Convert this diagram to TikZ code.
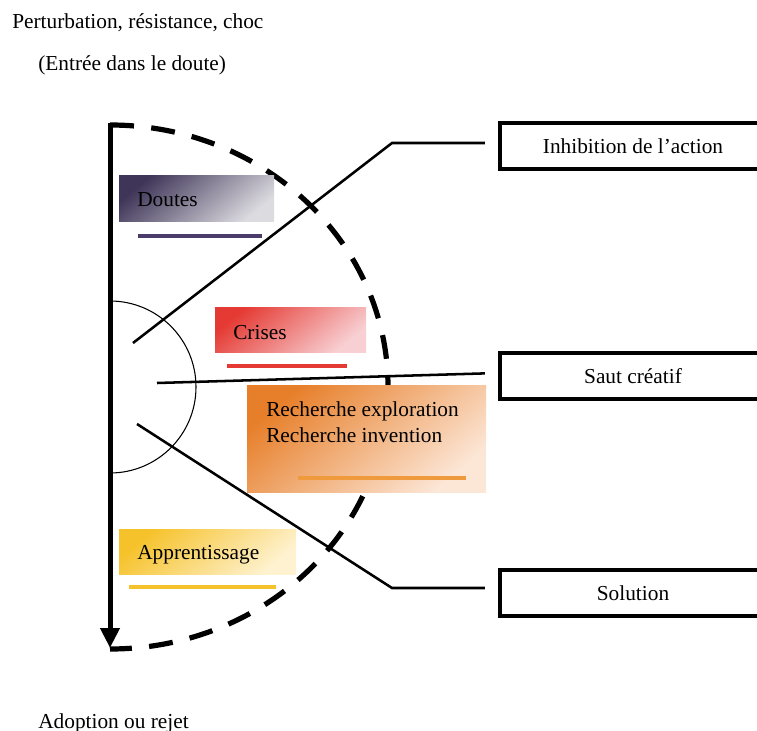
\documentclass[tikz,border=0pt]{standalone}
\usepackage{fontspec}
\setmainfont{Liberation Serif}
\usetikzlibrary{arrows.meta}

\definecolor{violetfonce}{HTML}{3F3558}
\definecolor{violetclair}{HTML}{DCDBE0}
\definecolor{violetbarre}{HTML}{4B3D6B}
\definecolor{rougefonce}{HTML}{E53A33}
\definecolor{rougeclair}{HTML}{F8D0D3}
\definecolor{orangefonce}{HTML}{E77F2A}
\definecolor{orangeclair}{HTML}{FCE6D6}
\definecolor{orangebarre}{HTML}{EF9A3C}
\definecolor{jaunefonce}{HTML}{F6C22B}
\definecolor{jauneclair}{HTML}{FEF2D0}

\begin{document}
\begin{tikzpicture}[x=0.75pt,y=-0.75pt,
    every node/.style={font=\fontsize{16}{19}\selectfont, inner sep=0pt},
    texte/.style={anchor=base west},
    sortie/.style={draw, line width=2.8pt, minimum width=199.5pt, minimum height=35pt},
    tiret/.style={line width=3.9pt, dash pattern=on 18pt off 13pt},
    trait/.style={line width=1.9pt},
    barre/.style={line width=3pt},
    degrade/.style 2 args={top color=#1, bottom color=#2, shading angle=40}]
  \useasboundingbox (0,0) rectangle (757,731);
  % Textes du haut et du bas
  \node[texte] (titre) at (12,29) {Perturbation, résistance, choc};
  \node[texte] (entree) at (38,71) {(Entrée dans le doute)};
  \node[texte] (adoption) at (38,728) {Adoption ou rejet};
  % Axe et arcs
  \draw[tiret] (110,125) arc[start angle=-90, end angle=90, x radius=278, y radius=262];
  \draw[line width=0.8pt] (110,301) arc[start angle=-90, end angle=90, radius=86];
  \draw[line width=3.75pt, -{Triangle[length=15pt,width=14pt]}] (110,123) -- (110,648);
  % Cadres de sortie
  \node[sortie] (inhib) at (633,146) {Inhibition de l’action};
  \node[sortie] (saut) at (633,376) {Saut créatif};
  \node[sortie] (solu) at (633,593) {Solution};
  % Traits vers les cadres
  \coordinate (d1) at (133,343);
  \coordinate (k1) at (392,143);
  \coordinate (d2) at (157,383);
  \coordinate (d3) at (137,424);
  \coordinate (k3) at (392,588);
  \draw[trait, shorten >=10pt] (d1) -- (k1) -- (k1 -| inhib.west);
  \draw[trait, shorten >=10pt] (d2) -- ([yshift=2.25pt]saut.west);
  \draw[trait, shorten >=10pt] (d3) -- (k3) -- (k3 -| solu.west);
  % Cadres en degrade
  \path[degrade={violetfonce}{violetclair}] (119,176) rectangle (274,222);
  \path[degrade={rougefonce}{rougeclair}] (215,307) rectangle (366,352);
  \path[degrade={orangefonce}{orangeclair}] (247,385) rectangle (486,492);
  \path[degrade={jaunefonce}{jauneclair}] (119,529) rectangle (296,574);
  \node[texte] (doutes) at (137,207) {Doutes};
  \node[texte] (crises) at (233,339) {Crises};
  \node[texte] (rech1) at (266,416) {Recherche exploration};
  \node[texte] (rech2) at (266,442) {Recherche invention};
  \node[texte] (appr) at (137,559) {Apprentissage};
  % Barres
  \draw[barre, violetbarre] (138,236) -- (262,236);
  \draw[barre, line width=3.4pt, rougefonce] (227,366) -- (347,366);
  \draw[barre, line width=3.4pt, orangebarre] (298,478) -- (466,478);
  \draw[barre, jaunefonce] (129,587) -- (276,587);
\end{tikzpicture}
\end{document}
